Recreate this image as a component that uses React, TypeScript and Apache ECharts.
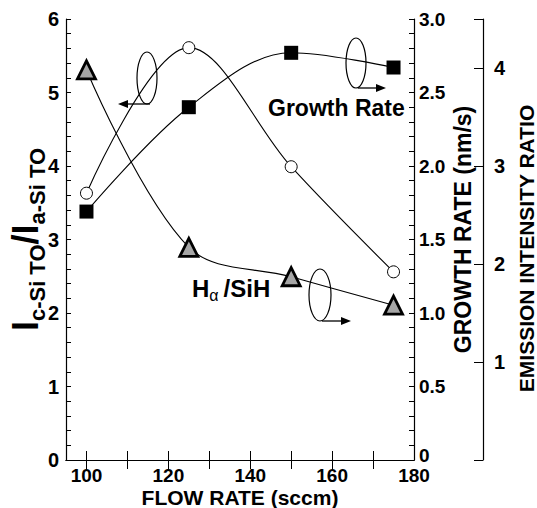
import React, { useEffect, useRef } from "react";
import * as echarts from "echarts";

const flowRates = [100, 125, 150, 175];
const intensityRatio = [3.63, 5.61, 3.99, 2.56]; // open circles, left axis
const growthRate = [1.69, 2.4, 2.77, 2.67]; // filled squares, growth axis
const emissionRatio = [3.98, 2.17, 1.87, 1.58]; // triangles, emission axis

const xTickValues = [100, 110, 120, 130, 140, 150, 160, 170];
const xLabelValues = [100, 120, 140, 160, 180];
const emissionTickValues = [0, 1, 2, 3, 4, 4.5];
const emissionLabelValues = [1, 2, 3, 4];

const FONT = "Liberation Sans";

export default function App() {
  const ref = useRef<HTMLDivElement>(null);
  useEffect(() => {
    if (!ref.current) return;
    const chart = echarts.init(ref.current, null, { renderer: "svg" });
    const black = "#000";
    const axisLine = { show: true, lineStyle: { color: black, width: 1.2 } };
    const labelStyle = { color: black, fontFamily: FONT, fontWeight: "bold" as const, fontSize: 20 };
    const pairs = (ys: number[]) => flowRates.map((x, i) => [x, ys[i]]);
    const arrow = (x1: number, x2: number, y: number, dir: number) => [
      { type: "line", shape: { x1, y1: y, x2: x2 - dir * 8, y2: y }, style: { stroke: black, lineWidth: 1.3 } },
      {
        type: "polygon",
        shape: { points: [[x2, y], [x2 - dir * 10, y - 4], [x2 - dir * 10, y + 4]] },
        style: { fill: black },
      },
    ];
    const loop = (cx: number, cy: number, rx: number, ry: number) => ({
      type: "ellipse",
      shape: { cx, cy, rx, ry },
      style: { fill: "none", stroke: black, lineWidth: 1.2 },
    });
    chart.setOption({
      animation: false,
      backgroundColor: "#fff",
      grid: { left: 66, right: 123, top: 19, bottom: 48, containLabel: false, outerBoundsMode: "none" },
      xAxis: [
        {
          type: "value",
          position: "bottom",
          min: 95,
          max: 180,
          axisLine,
          axisTick: { show: true, inside: true, length: 9, customValues: xTickValues, lineStyle: { color: black } },
          axisLabel: { ...labelStyle, fontSize: 19, margin: 6, customValues: xLabelValues },
          splitLine: { show: false },
          name: "FLOW RATE (sccm)",
          nameLocation: "middle",
          nameGap: 27,
          nameMoveOverlap: false,
          nameTextStyle: { ...labelStyle, fontSize: 21 },
        },
        {
          type: "value",
          position: "top",
          min: 95,
          max: 180,
          axisLine,
          axisTick: { show: true, inside: true, length: 9, customValues: xTickValues, lineStyle: { color: black } },
          axisLabel: { show: false },
          splitLine: { show: false },
        },
      ],
      yAxis: [
        {
          type: "value",
          position: "left",
          min: 0,
          max: 6,
          interval: 1,
          axisLine,
          axisTick: { show: true, inside: true, length: 5, lineStyle: { color: black } },
          minorTick: { show: true, splitNumber: 5, length: 5, lineStyle: { color: black } },
          axisLabel: { ...labelStyle, margin: 7 },
          splitLine: { show: false },
          minorSplitLine: { show: false },
          name: "{big|I}{sub|c-Si TO}{big|/I}{sub|a-Si TO}",
          nameLocation: "middle",
          nameGap: 18,
          nameMoveOverlap: false,
          nameTextStyle: {
            rich: {
              big: { fontFamily: FONT, fontWeight: "bold", fontSize: 36, color: black },
              sub: { fontFamily: FONT, fontWeight: "bold", fontSize: 22, color: black, padding: [24, 0, 0, 0] },
            },
          },
        },
        {
          type: "value",
          position: "right",
          min: 0,
          max: 3,
          interval: 0.5,
          axisLine,
          axisTick: { show: true, inside: true, length: 5, lineStyle: { color: black } },
          minorTick: { show: true, splitNumber: 5, length: 5, lineStyle: { color: black } },
          axisLabel: {
            ...labelStyle,
            fontSize: 19,
            margin: 5,
            formatter: (v: number) => (v === 0 ? "{z|0}" : v.toFixed(1)),
            rich: { z: { fontFamily: FONT, fontWeight: "bold", fontSize: 19, color: black, padding: [0, 0, 10, 0] } },
          },
          splitLine: { show: false },
          minorSplitLine: { show: false },
          name: "GROWTH RATE (nm/s)",
          nameLocation: "middle",
          nameGap: 37,
          nameMoveOverlap: false,
          nameTextStyle: { ...labelStyle, fontSize: 23, padding: [0, 0, 0, 20] },
        },
        {
          type: "value",
          position: "right",
          offset: 69,
          min: 0,
          max: 4.5,
          axisLine,
          axisTick: { show: true, inside: true, length: 9, customValues: emissionTickValues, lineStyle: { color: black } },
          axisLabel: { ...labelStyle, margin: 11, customValues: emissionLabelValues },
          splitLine: { show: false },
          name: "EMISSION INTENSITY RATIO",
          nameLocation: "middle",
          nameGap: 33,
          nameMoveOverlap: false,
          nameTextStyle: { ...labelStyle, fontSize: 21, padding: [0, 18, 0, 0] },
        },
      ],
      series: [
        {
          type: "line",
          xAxisIndex: 0,
          yAxisIndex: 0,
          data: pairs(intensityRatio),
          smooth: 0.35,
          symbol: "circle",
          symbolSize: 12,
          itemStyle: { color: "#fff", borderColor: black, borderWidth: 1 },
          lineStyle: { color: black, width: 1.1 },
          z: 3,
        },
        {
          type: "line",
          xAxisIndex: 0,
          yAxisIndex: 1,
          data: pairs(growthRate),
          smooth: 0.35,
          symbol: "rect",
          symbolSize: 14,
          itemStyle: { color: black, borderColor: black, borderWidth: 0 },
          lineStyle: { color: black, width: 1.1 },
          z: 3,
        },
        {
          type: "line",
          xAxisIndex: 0,
          yAxisIndex: 2,
          data: pairs(emissionRatio),
          smooth: 0.35,
          symbol: "triangle",
          symbolSize: 18,
          itemStyle: { color: "#a6a6a6", borderColor: black, borderWidth: 2.8 },
          lineStyle: { color: black, width: 1.1 },
          z: 3,
        },
      ],
      graphic: [
        loop(147, 78, 10, 26),
        ...arrow(150, 118, 104, -1),
        loop(356, 63, 10, 25),
        ...arrow(358, 386, 88, 1),
        loop(320, 295, 11, 26),
        ...arrow(322, 351, 321, 1),
        {
          type: "text",
          x: 268,
          y: 96,
          style: { text: "Growth Rate", fontFamily: FONT, fontWeight: "bold", fontSize: 23, fill: black },
        },
        {
          type: "text",
          x: 192,
          y: 273,
          style: {
            text: "{a|H}{s|α}{a|/SiH}",
            rich: {
              a: { fontFamily: FONT, fontWeight: "bold", fontSize: 24, fill: black },
              s: { fontFamily: FONT, fontSize: 16, fill: black, padding: [14, 5, 0, 0] },
            },
          },
        },
      ],
    });
    return () => chart.dispose();
  }, []);
  return (
    <div
      ref={ref}
      style={{ position: "absolute", left: 0, top: 0, width: 537, height: 508, background: "#fff" }}
    />
  );
}
